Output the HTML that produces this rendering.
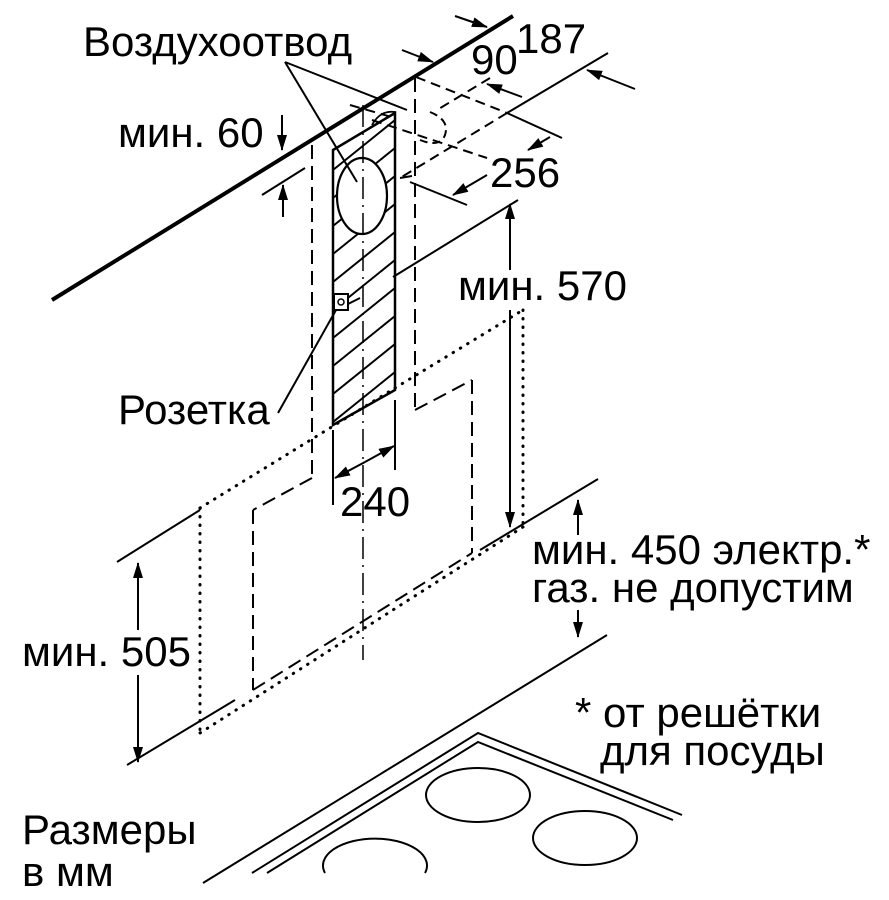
<!DOCTYPE html>
<html><head><meta charset="utf-8"><style>
html,body{margin:0;padding:0;background:#fff;}
svg{display:block;}
text{font-family:"Liberation Sans",sans-serif;font-size:42px;fill:#000;}
</style></head><body>
<svg width="889" height="900" viewBox="0 0 889 900" xmlns="http://www.w3.org/2000/svg">
<defs>
<marker id="a" markerWidth="16" markerHeight="10" refX="15" refY="5" orient="auto" markerUnits="userSpaceOnUse">
<path d="M0,0 L16,5 L0,10 Z" fill="#000"/></marker>
<clipPath id="pc"><polygon points="333,150 395,113 395,390 333,425"/></clipPath>
</defs>
<g stroke="#000" fill="none" stroke-width="2">
<line x1="52" y1="300" x2="513" y2="16" stroke-width="4"/>
<g clip-path="url(#pc)" stroke-width="2">
<line x1="333" y1="170" x2="395" y2="120"/>
<line x1="333" y1="198" x2="395" y2="148"/>
<line x1="333" y1="226" x2="395" y2="176"/>
<line x1="333" y1="254" x2="395" y2="204"/>
<line x1="333" y1="282" x2="395" y2="232"/>
<line x1="333" y1="310" x2="395" y2="260"/>
<line x1="333" y1="338" x2="395" y2="288"/>
<line x1="333" y1="366" x2="395" y2="316"/>
<line x1="333" y1="394" x2="395" y2="344"/>
<line x1="333" y1="422" x2="395" y2="372"/>
<line x1="333" y1="450" x2="395" y2="400"/>
</g>
<ellipse cx="362" cy="196" rx="25" ry="38" fill="#fff" stroke-width="2.2"/>
<polygon points="333,150 395,113 395,390 333,425" stroke-width="2.5"/>
<rect x="334" y="294" width="14" height="16" fill="#fff" stroke-width="2"/>
<circle cx="341" cy="302" r="3" stroke-width="1.5"/>
<line x1="363" y1="105" x2="363" y2="660" stroke-dasharray="22 6 2 6" stroke-width="1.5"/>
<line x1="312" y1="145" x2="312" y2="478" stroke-dasharray="14 7"/>
<line x1="415" y1="78" x2="415" y2="410" stroke-dasharray="14 7"/>
<line x1="415" y1="410" x2="472" y2="380" stroke-dasharray="14 7"/>
<line x1="472" y1="380" x2="472" y2="553" stroke-dasharray="14 7"/>
<line x1="312" y1="478" x2="253" y2="510" stroke-dasharray="14 7"/>
<line x1="253" y1="510" x2="253" y2="690" stroke-dasharray="14 7"/>
<line x1="253" y1="690" x2="472" y2="553" stroke-dasharray="14 7"/>
<line x1="416" y1="77" x2="507" y2="113" stroke-dasharray="10 6"/>
<line x1="507" y1="113" x2="562" y2="138"/>
<line x1="507" y1="113" x2="608" y2="53"/>
<line x1="507" y1="113" x2="400" y2="178" stroke-dasharray="10 6"/>
<line x1="490" y1="78" x2="437" y2="110" stroke-dasharray="10 6"/>
<line x1="372" y1="120" x2="487" y2="158" stroke-dasharray="10 6"/>
<line x1="350" y1="105" x2="395" y2="118" stroke-dasharray="10 6"/>
<path d="M430,112 Q450,120 445,135 Q440,148 420,140" stroke-dasharray="8 5"/>
<path d="M372,125 Q380,110 395,112" stroke-width="1.8"/>
<line x1="400" y1="178" x2="412" y2="176"/>
<line x1="455" y1="16" x2="487" y2="27" marker-end="url(#a)"/>
<line x1="402" y1="50" x2="433" y2="62" marker-end="url(#a)"/>
<line x1="522" y1="97" x2="487" y2="84" marker-end="url(#a)"/>
<line x1="635" y1="89" x2="587" y2="70" marker-end="url(#a)"/>
<line x1="550" y1="137" x2="528" y2="150" marker-end="url(#a)"/>
<line x1="487" y1="175" x2="453" y2="195" marker-end="url(#a)"/>
<line x1="410" y1="182" x2="467" y2="205"/>
<line x1="285" y1="62" x2="357" y2="182"/>
<line x1="285" y1="62" x2="407" y2="110"/>
<line x1="262" y1="195" x2="305" y2="168"/>
<line x1="282" y1="115" x2="282" y2="150" marker-end="url(#a)"/>
<line x1="283" y1="217" x2="283" y2="185" marker-end="url(#a)"/>
<line x1="393" y1="277" x2="518" y2="200"/>
<line x1="510" y1="270" x2="510" y2="204" marker-end="url(#a)"/>
<line x1="510" y1="310" x2="510" y2="527" marker-end="url(#a)"/>
<line x1="278" y1="413" x2="336" y2="310"/>
<line x1="348" y1="304" x2="360" y2="298"/>
<g stroke-width="3" stroke-dasharray="0.5 8" stroke-linecap="round">
<line x1="200" y1="508" x2="395" y2="388"/>
<line x1="395" y1="388" x2="523" y2="310"/>
<line x1="523" y1="310" x2="523" y2="527"/>
<line x1="523" y1="527" x2="200" y2="733"/>
<line x1="200" y1="508" x2="200" y2="733"/>
</g>
<line x1="117" y1="562" x2="200" y2="510"/>
<line x1="480" y1="550" x2="598" y2="479"/>
<line x1="127" y1="765" x2="235" y2="700"/>
<line x1="138" y1="630" x2="138" y2="563" marker-end="url(#a)"/>
<line x1="138" y1="675" x2="138" y2="762" marker-end="url(#a)"/>
<line x1="333" y1="430" x2="333" y2="505"/>
<line x1="395" y1="400" x2="395" y2="470"/>
<line x1="365" y1="462" x2="335" y2="478" marker-end="url(#a)"/>
<line x1="365" y1="462" x2="394" y2="446" marker-end="url(#a)"/>
<line x1="578" y1="535" x2="578" y2="500" marker-end="url(#a)"/>
<line x1="578" y1="610" x2="578" y2="637" marker-end="url(#a)"/>
<line x1="203" y1="883" x2="607" y2="635"/>
<polyline points="252,873 478,733 682,815"/>
<polyline points="267,873 478,742 673,820"/>
<ellipse cx="478" cy="795" rx="52" ry="27"/>
<ellipse cx="585" cy="838" rx="52" ry="27"/>
<path d="M325,873 A52,27 0 1 1 425,873"/>
</g>
<text x="83" y="56">Воздухоотвод</text>
<text x="118" y="147">мин. 60</text>
<text x="516" y="53">187</text>
<text x="471" y="74">90</text>
<text x="490" y="187">256</text>
<text x="458" y="300">мин. 570</text>
<text x="118" y="424">Розетка</text>
<text x="340" y="516">240</text>
<text x="532" y="564">мин. 450 электр.*</text>
<text x="532" y="602">газ. не допустим</text>
<text x="22" y="666">мин. 505</text>
<text x="575" y="727">* от решётки</text>
<text x="600" y="765">для посуды</text>
<text x="22" y="844">Размеры</text>
<text x="22" y="886">в мм</text>
</svg>
</body></html>
